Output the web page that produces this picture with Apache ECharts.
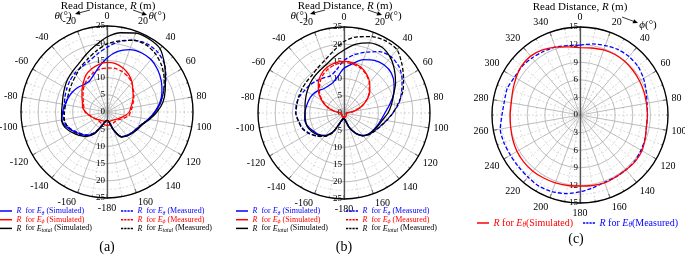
<!DOCTYPE html>
<html>
<head>
<meta charset="utf-8">
<script src="https://cdn.jsdelivr.net/npm/echarts@6/dist/echarts.min.js"></script>
<style>
  html, body { margin: 0; padding: 0; background: #fff; }
  #chart { width: 685px; height: 257px; }
</style>
</head>
<body>
<div id="chart"></div>
<script>
// angles (deg) used by panels (a) and (b)
var thetaAB = [-180, -170, -160, -150, -140, -130, -120, -110, -100, -90, -80, -70, -60, -50, -40, -30, -20, -10,
  0, 10, 20, 30, 40, 50, 60, 70, 80, 90, 100, 110, 120, 130, 140, 150, 160, 170, 180];
// angles (deg) used by panel (c)
var phiC = [0, 10, 20, 30, 40, 50, 60, 70, 80, 90, 100, 110, 120, 130, 140, 150, 160, 170, 180,
  190, 200, 210, 220, 230, 240, 250, 260, 270, 280, 290, 300, 310, 320, 330, 340, 350, 360];

// panel (a), read distance R (m)
var aThetaSim = [2.4, 2.8, 4, 7, 8.9, 10, 11.2, 12.6, 13.3, 12.9, 12.4, 12, 11.6, 11.1, 10.4, 10.3, 11.4, 13.3,
  15.7, 17.9, 19.3, 19.9, 19.9, 19.2, 18.2, 17, 15.6, 13.8, 12.2, 10.9, 10, 9.4, 8.9, 8.3, 5.5, 2.8, 2.4];
var aThetaMea = [2.4, 2.8, 4, 6.8, 8.7, 9.8, 11, 12.2, 12.8, 12.6, 12.6, 13, 13.5, 14.1, 14.6, 15, 15.6, 17,
  18.8, 20.8, 22.2, 23, 22.8, 21.8, 19.8, 17.5, 15.8, 14, 12.2, 10.6, 9.8, 9.4, 9, 8.3, 5.5, 2.8, 2.4];
var aPhiSim = [2.8, 2.8, 2.8, 2.9, 3.1, 3.4, 3.9, 4.5, 5.3, 6.2, 7.2, 7.6, 8.4, 9.5, 10.8, 12.3, 13.3, 14,
  14.4, 14.3, 13.6, 12.6, 11.3, 9.8, 8.8, 7.8, 7, 6.5, 5.5, 4.5, 3.8, 3.3, 3, 2.8, 2.8, 2.8, 2.8];
var aPhiMea = [3.9, 3.8, 3.7, 3.6, 3.5, 3.6, 3.9, 4.4, 5.2, 6.4, 6.8, 7.3, 8, 9.1, 10.2, 11.2, 12, 12.6,
  12.8, 12.9, 12.6, 12, 11.2, 10, 9, 8.1, 7.4, 6.8, 6.4, 5.2, 4.3, 3.7, 3.6, 3.7, 3.8, 3.9, 3.9];
var aTotalSim = [2.4, 2.8, 4.2, 7.2, 9.3, 10.6, 11.8, 13, 13.4, 13.2, 13.2, 13.6, 14.2, 14.9, 15.5, 16.3, 17.8, 19.6,
  21.8, 23.4, 24.4, 24.5, 24, 21.8, 19.6, 18, 16.5, 14.5, 12.5, 10.8, 10.2, 9.6, 9.1, 8.4, 5.5, 2.8, 2.4];
var aTotalMea = [2.4, 2.8, 4, 7, 8.9, 10.2, 11.3, 12.2, 12.6, 12.4, 12.2, 12.2, 12.6, 13.2, 14, 15.2, 16.4, 18,
  19.8, 21, 22.2, 22.6, 22, 20.8, 19.2, 17.5, 15.8, 14, 12.3, 10.7, 9.9, 9.4, 9, 8.3, 5.5, 2.8, 2.4];

// panel (b)
var bThetaSim = [1.6, 1.7, 2.6, 6.3, 8.5, 9.7, 10.4, 11.2, 11.6, 11.4, 11.1, 10.9, 10.6, 10, 9.2, 9.1, 9.4, 10.7,
  13, 14.6, 16.5, 17.7, 18.2, 18, 16.8, 15.3, 13.4, 11.9, 11, 10.4, 9.9, 9.4, 8.5, 6.7, 4.4, 2.2, 1.6];
var bThetaMea = [1.6, 1.8, 2.8, 6.5, 8.8, 10.3, 11.7, 12.8, 13.4, 14, 14.1, 13.8, 13.2, 12.8, 12.3, 11.8, 11.5, 12.7,
  15.3, 17.2, 18.8, 20.6, 21.3, 20.9, 19.5, 17.8, 16.2, 14.2, 12.5, 11.2, 10.3, 9.6, 8.7, 6.9, 4.5, 2.2, 1.6];
var bPhiSim = [1.2, 1.2, 1.2, 1.1, 1, 0.9, 0.8, 0.7, 0.7, 0.9, 2.9, 5.3, 7.6, 9.7, 11.6, 13.1, 14.2, 14.8,
  15, 14.8, 14.2, 13.1, 11.6, 9.8, 7.7, 5.3, 2.8, 0.8, 0.6, 0.7, 0.8, 0.9, 1, 1.1, 1.2, 1.2, 1.2];
var bPhiMea = [1.1, 1.1, 1.1, 1, 0.9, 0.8, 0.7, 0.7, 0.7, 0.8, 2.7, 5.1, 7.3, 9.3, 11, 12.5, 13.6, 14.3,
  14.6, 14.5, 13.9, 12.9, 11.4, 9.6, 7.6, 5.3, 2.8, 0.8, 0.6, 0.7, 0.8, 0.9, 1, 1, 1.1, 1.1, 1.1];
var bTotalSim = [1.6, 1.7, 2.7, 6.4, 8.7, 9.9, 10.8, 11.4, 11.4, 11.3, 11.5, 11.9, 12.4, 13, 13.6, 14.2, 15, 16.5,
  18.3, 20.3, 21.7, 22.1, 21, 19.2, 17.3, 15.3, 14, 12.8, 11.4, 10.6, 10, 9.5, 8.6, 6.8, 4.5, 2.2, 1.6];
var bTotalMea = [1.6, 1.8, 2.8, 6.5, 8.9, 10.4, 11.9, 13, 13.5, 14, 13.9, 14, 14.1, 14.2, 14.4, 15.2, 16.3, 18.2,
  20.8, 22.5, 23.6, 24.2, 24, 22, 20, 18.2, 16, 14.2, 12.6, 11.3, 10.4, 9.7, 8.7, 6.9, 4.5, 2.2, 1.6];

// panel (c)
var cThetaSim = [11.5, 11.6, 11.8, 11.9, 11.9, 11.8, 11.7, 11.6, 11.5, 11.5, 11.5, 11.8, 12.2, 12.3, 12.2, 12.2, 12.3, 12.2, 12.1,
  12.2, 12.3, 12.4, 12.5, 12.5, 12.4, 12.2, 12, 11.9, 11.9, 12.2, 12.6, 13, 13.1, 12.8, 12.3, 11.8, 11.5];
var cThetaMea = [11.9, 12.3, 12.6, 12.9, 13, 12.9, 12.5, 12, 11.6, 11.5, 11.5, 11.8, 12, 12.2, 12.2, 12.2, 12.2, 12.6, 13.1,
  13.6, 13.9, 14, 13.8, 13.7, 13.7, 13.8, 13.8, 13.3, 13.1, 13.2, 12.9, 12.9, 12.7, 12.5, 12.3, 12, 11.9];

var serif = 'Liberation Serif';
var BLUE = '#0000ff', RED = '#ff0000', BLACK = '#000000';
var SOLID_ICON = 'path://M0,0H16V2H0Z';
var DASH_ICON = 'path://M0,0H3V2H0ZM4.3,0H7.3V2H4.3ZM8.6,0H11.6V2H8.6ZM12.9,0H16V2H12.9Z';

var chart = echarts.init(document.getElementById('chart'));

function pairs(rs, angs) {
  return rs.map(function (r, i) { return [r, angs[i]]; });
}

function line(name, polarIndex, rs, angs, color, dashed) {
  return {
    name: name,
    type: 'line',
    coordinateSystem: 'polar',
    polarIndex: polarIndex,
    symbol: 'none',
    smooth: 0.25,
    data: pairs(rs, angs),
    lineStyle: { color: color, width: 1.3, type: dashed ? [4, 2] : 'solid' },
    itemStyle: { color: color },
    z: dashed ? 3 : 4
  };
}

// main polar: angle axis with grid + one half of the radial scale
function mainAngle(idx, min, max, start) {
  return {
    polarIndex: idx, type: 'value', min: min, max: max, interval: 20,
    startAngle: start, clockwise: true,
    axisLine: { lineStyle: { color: '#000', width: 1.3 } },
    axisTick: { inside: true, length: 4, lineStyle: { color: '#000', width: 0.8 } },
    minorTick: { show: true, splitNumber: 2, length: 2, lineStyle: { color: '#000', width: 0.6 } },
    axisLabel: { fontFamily: serif, fontSize: 10, color: '#000', margin: 5 },
    splitLine: { lineStyle: { color: '#a0a0a0', width: 0.7 } },
    minorSplitLine: { show: true, lineStyle: { color: '#bdbdbd', width: 0.6, type: [2, 2] } }
  };
}
// labels always sit on the left of the vertical spine
function radialLabel(showMin, down) {
  return {
    fontFamily: serif, fontSize: 9, color: '#000', showMinLabel: showMin,
    margin: down ? -2 : 2, align: 'right'
  };
}
function mainRadius(idx, max, step, showMin, down) {
  return {
    polarIndex: idx, type: 'value', min: 0, max: max, interval: step,
    axisLine: { show: true, lineStyle: { color: '#555', width: 1.3 } },
    axisTick: { show: false },
    minorTick: { show: false, splitNumber: 2 },
    axisLabel: radialLabel(showMin, down),
    splitLine: { lineStyle: { color: '#a0a0a0', width: 0.7 } },
    minorSplitLine: { show: true, lineStyle: { color: '#c4c4c4', width: 0.6, type: [2, 2] } }
  };
}
// helper polar that only carries the other half of the radial scale
function helperAngle(idx, start) {
  return {
    polarIndex: idx, type: 'value', min: 0, max: 360, startAngle: start,
    axisLine: { show: false }, axisTick: { show: false }, axisLabel: { show: false }, splitLine: { show: false }
  };
}
function helperRadius(idx, max, step, showMin, down) {
  return {
    polarIndex: idx, type: 'value', min: 0, max: max, interval: step,
    axisLine: { show: true, lineStyle: { color: '#555', width: 1.3 } },
    axisTick: { show: false },
    axisLabel: radialLabel(showMin, down),
    splitLine: { show: false }
  };
}

var legendText = {
  aThetaSim: '{ib|R}{b|  for }{ib|E}{sb|θ}{b| (Simulated)}',
  aPhiSim: '{ir|R}{r|  for }{ir|E}{sr|ϕ}{r| (Simulated)}',
  aTotalSim: '{ik|R}{k|  for }{ik|E}{sk|total}{k| (Simulated)}',
  aThetaMea: '{ib|R}{b|  for }{ib|E}{sb|θ}{b| (Measured)}',
  aPhiMea: '{ir|R}{r|  for }{ir|E}{sr|ϕ}{r| (Measured)}',
  aTotalMea: '{ik|R}{k|  for }{ik|E}{sk|total}{k| (Measured)}',
  cThetaSim: '{ir|R}{r| for }{ir|E}{sr|θ}{r|(Simulated)}',
  cThetaMea: '{ib|R}{b| for }{ib|E}{sb|θ}{b|(Measured)}'
};
legendText.bThetaSim = legendText.aThetaSim;
legendText.bPhiSim = legendText.aPhiSim;
legendText.bTotalSim = legendText.aTotalSim;
legendText.bThetaMea = legendText.aThetaMea;
legendText.bPhiMea = legendText.aPhiMea;
legendText.bTotalMea = legendText.aTotalMea;

function makeRich(size) {
  var rich = {};
  [['b', BLUE], ['r', RED], ['k', BLACK]].forEach(function (c) {
    rich[c[0]] = { color: c[1], fontFamily: serif, fontSize: size, lineHeight: size + 2 };
    rich['i' + c[0]] = { color: c[1], fontFamily: serif, fontSize: size, fontStyle: 'italic', lineHeight: size + 2 };
    rich['s' + c[0]] = { color: c[1], fontFamily: serif, fontSize: size * 0.72, fontStyle: 'italic',
      lineHeight: size * 0.72, verticalAlign: 'bottom' };
  });
  return rich;
}

// one legend per row: [seriesName, icon, colour]
function legendRow(name, icon, color, left, top, size) {
  size = size || 8;
  return {
    data: [{ name: name, icon: icon, itemStyle: { color: color, borderWidth: 0 } }],
    left: left, top: top, orient: 'horizontal',
    itemWidth: 15, itemHeight: 1.5, padding: 0,
    selectedMode: false,
    formatter: function (n) { return legendText[n]; },
    textStyle: { fontFamily: serif, fontSize: size, rich: makeRich(size), padding: [0, 0, 0, -2] }
  };
}

function txt(x, y, text, size, align) {
  return {
    type: 'text', x: x, y: y, silent: true,
    style: {
      text: text, fill: '#000', font: size + 'px "' + serif + '"',
      align: align || 'center', verticalAlign: 'middle',
      rich: {
        i: { fontFamily: serif, fontSize: size, fontStyle: 'italic', fill: '#000' },
        n: { fontFamily: serif, fontSize: size, fill: '#000' }
      }
    }
  };
}
function arrow(x1, y1, x2, y2) {
  var a = Math.atan2(y2 - y1, x2 - x1), L = 5, W = 2.2;
  var bx = x2 - L * Math.cos(a), by = y2 - L * Math.sin(a);
  return [
    { type: 'line', silent: true, shape: { x1: x1, y1: y1, x2: bx, y2: by }, style: { stroke: '#000', lineWidth: 0.8 } },
    { type: 'polygon', silent: true, shape: { points: [[x2, y2],
      [bx + W * Math.sin(a), by - W * Math.cos(a)], [bx - W * Math.sin(a), by + W * Math.cos(a)]] },
      style: { fill: '#000' } }
  ];
}

var graphics = [
  txt(108, 6, '{n|Read Distance, }{i|R}{n| (m)}', 11),
  txt(63, 16, '{i|θ}{n|(°)}', 11),
  txt(157, 16, '{i|θ}{n|(°)}', 11),
  txt(345, 6, '{n|Read Distance, }{i|R}{n| (m)}', 11),
  txt(299, 16, '{i|θ}{n|(°)}', 11),
  txt(393, 16, '{i|θ}{n|(°)}', 11),
  txt(580, 7, '{n|Read Distance, }{i|R}{n| (m)}', 11),
  txt(648, 25, '{i|ϕ}{n|(°)}', 11),
  txt(107, 247, '(a)', 14),
  txt(344, 247, '(b)', 14),
  txt(576, 239, '(c)', 14)
].concat(arrow(90, 10, 75, 14), arrow(133, 10, 147, 15),
  arrow(325, 10, 310, 14), arrow(368, 10, 382, 15),
  arrow(622, 17, 638, 23));

var rowY = [207, 215.7, 224.4];
var simNames = ['ThetaSim', 'PhiSim', 'TotalSim'];
var meaNames = ['ThetaMea', 'PhiMea', 'TotalMea'];
var rowColors = [BLUE, RED, BLACK];
var legends = [];
[['a', 0, 121], ['b', 236, 346]].forEach(function (p) {
  for (var k = 0; k < 3; k++) {
    legends.push(legendRow(p[0] + simNames[k], SOLID_ICON, rowColors[k], p[1], rowY[k]));
    legends.push(legendRow(p[0] + meaNames[k], DASH_ICON, rowColors[k], p[2], rowY[k]));
  }
});
legends.push(legendRow('cThetaSim', SOLID_ICON, RED, 477, 218, 10));
legends.push(legendRow('cThetaMea', DASH_ICON, BLUE, 583, 218, 10));

chart.setOption({
  animation: false,
  polar: [
    { center: [107, 112], radius: 86 },
    { center: [107, 112], radius: 86 },
    { center: [344, 113], radius: 86 },
    { center: [344, 113], radius: 86 },
    { center: [580, 115], radius: 88 },
    { center: [580, 115], radius: 88 }
  ],
  angleAxis: [
    mainAngle(0, -180, 180, 270),
    helperAngle(1, 90),
    mainAngle(2, -180, 180, 270),
    helperAngle(3, 90),
    mainAngle(4, 0, 360, 90),
    helperAngle(5, 270)
  ],
  radiusAxis: [
    mainRadius(0, 25, 5, false, true),
    helperRadius(1, 25, 5, true, false),
    mainRadius(2, 25, 5, false, true),
    helperRadius(3, 25, 5, true, false),
    mainRadius(4, 15, 3, true, false),
    helperRadius(5, 15, 3, false, true)
  ],
  legend: legends,
  graphic: graphics,
  series: [
    line('aThetaSim', 0, aThetaSim, thetaAB, BLUE, false),
    line('aPhiSim', 0, aPhiSim, thetaAB, RED, false),
    line('aTotalSim', 0, aTotalSim, thetaAB, BLACK, false),
    line('aThetaMea', 0, aThetaMea, thetaAB, BLUE, true),
    line('aPhiMea', 0, aPhiMea, thetaAB, RED, true),
    line('aTotalMea', 0, aTotalMea, thetaAB, BLACK, true),
    line('bThetaSim', 2, bThetaSim, thetaAB, BLUE, false),
    line('bPhiSim', 2, bPhiSim, thetaAB, RED, false),
    line('bTotalSim', 2, bTotalSim, thetaAB, BLACK, false),
    line('bThetaMea', 2, bThetaMea, thetaAB, BLUE, true),
    line('bPhiMea', 2, bPhiMea, thetaAB, RED, true),
    line('bTotalMea', 2, bTotalMea, thetaAB, BLACK, true),
    line('cThetaSim', 4, cThetaSim, phiC, RED, false),
    line('cThetaMea', 4, cThetaMea, phiC, BLUE, true)
  ]
});
</script>
</body>
</html>
